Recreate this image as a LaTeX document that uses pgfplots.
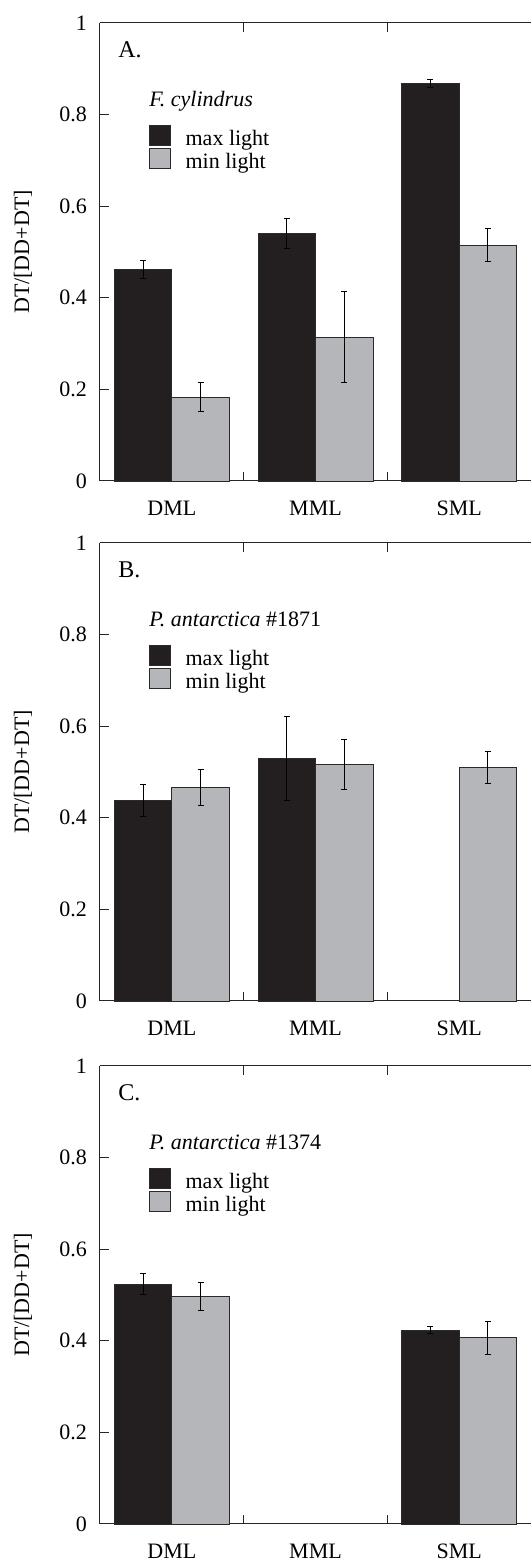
\documentclass[border=0pt]{standalone}
\usepackage{pgfplots}
\pgfplotsset{compat=1.18}
\usepackage{fontspec}
\setmainfont{Liberation Serif}
\definecolor{barblack}{HTML}{231F20}
\definecolor{bargray}{HTML}{B5B6B9}
\definecolor{edge}{HTML}{2A2A2A}
\pgfplotsset{
  panel/.style={
    scale only axis, width=431pt, height=458pt,
    xmin=-0.5, xmax=2.5, ymin=0, ymax=1,
    axis x line*=box, axis y line*=left,
    axis line style={-, line width=1pt, black!85},
    xtick={0.5,1.5}, xticklabels={,},
    extra x ticks={0,1,2}, extra x tick labels={DML,MML,SML},
    extra x tick style={major tick length=0pt},
    ytick={0,0.2,0.4,0.6,0.8,1},
    major tick length=9pt,
    tick style={line width=1pt, black!85},
    tick align=inside,
    /pgf/number format/assume math mode=true,
    tick label style={font=\fontsize{22}{26}\selectfont},
    yticklabel style={inner sep=0pt, xshift=-13pt},
    xticklabel style={inner sep=0pt, yshift=-19.5pt},
    ylabel={DT/[DD+DT]},
    ylabel style={at={(axis description cs:-0.1787,0.5)}, anchor=center, font=\fontsize{22}{26}\selectfont},
    legend style={at={(0.114,0.778)}, anchor=north west, draw=none, fill=none, inner sep=0pt,
      font=\fontsize{22}{26}\selectfont, nodes={inner sep=0pt}, row sep=0.45pt, column sep=15pt},
    legend cell align=left,
    clip=false,
  },
  maxbar/.style={ybar, bar width=0.4, bar shift=0, fill=barblack, draw=edge, line width=0.8pt,
    legend image code/.code={\draw[##1] (0pt,-6.85pt) rectangle (20.5pt,13.65pt);},
    error bars/.cd, y dir=both, y explicit,
    error bar style={black, line width=0.9pt},
    error mark options={rotate=90, black, mark size=3pt, line width=0.9pt}},
  minbar/.style={ybar, bar width=0.4, bar shift=0, fill=bargray, draw=edge, line width=0.8pt,
    legend image code/.code={\draw[##1] (0pt,-6.85pt) rectangle (20.5pt,13.65pt);},
    error bars/.cd, y dir=both, y explicit,
    error bar style={black, line width=0.9pt},
    error mark options={rotate=90, black, mark size=3pt, line width=0.9pt}},
}
\begin{document}
\begin{tikzpicture}
% Panel A
\begin{axis}[panel, at={(100pt,1082pt)}, anchor=south west]
\addplot[maxbar] coordinates {(-0.2,0.462) +- (0,0.020) (0.8,0.541) +- (0,0.033) (1.8,0.868) +- (0,0.008)};
\addlegendentry{max light}
\addplot[minbar] coordinates {(0.2,0.183) +- (0,0.032) (1.2,0.314) +- (0,0.099) (2.2,0.515) +- (0,0.036)};
\addlegendentry{min light}
\node[anchor=west, inner sep=0pt, font=\fontsize{24}{28}\selectfont] at (rel axis cs:0.042,0.942) {A.};
\node[anchor=base west, inner sep=0pt, font=\fontsize{22}{26}\selectfont] at (rel axis cs:0.114,0.817) {\textit{F. cylindrus}};
\end{axis}
% Panel B
\begin{axis}[panel, at={(100pt,562pt)}, anchor=south west]
\addplot[maxbar] coordinates {(-0.2,0.438) +- (0,0.035) (0.8,0.530) +- (0,0.092)};
\addlegendentry{max light}
\addplot[minbar] coordinates {(0.2,0.466) +- (0,0.040) (1.2,0.516) +- (0,0.055) (2.2,0.510) +- (0,0.034)};
\addlegendentry{min light}
\node[anchor=west, inner sep=0pt, font=\fontsize{24}{28}\selectfont] at (rel axis cs:0.042,0.942) {B.};
\node[anchor=base west, inner sep=0pt, font=\fontsize{22}{26}\selectfont] at (rel axis cs:0.114,0.817) {\textit{P. antarctica} \#1871};
\end{axis}
% Panel C
\begin{axis}[panel, at={(100pt,39pt)}, anchor=south west]
\addplot[maxbar] coordinates {(-0.2,0.524) +- (0,0.023) (1.8,0.423) +- (0,0.008)};
\addlegendentry{max light}
\addplot[minbar] coordinates {(0.2,0.497) +- (0,0.030) (2.2,0.407) +- (0,0.036)};
\addlegendentry{min light}
\node[anchor=west, inner sep=0pt, font=\fontsize{24}{28}\selectfont] at (rel axis cs:0.042,0.942) {C.};
\node[anchor=base west, inner sep=0pt, font=\fontsize{22}{26}\selectfont] at (rel axis cs:0.114,0.817) {\textit{P. antarctica} \#1374};
\end{axis}
\pgfresetboundingbox
\path[use as bounding box] (0pt,0pt) rectangle (531pt,1563pt);
\end{tikzpicture}
\end{document}
